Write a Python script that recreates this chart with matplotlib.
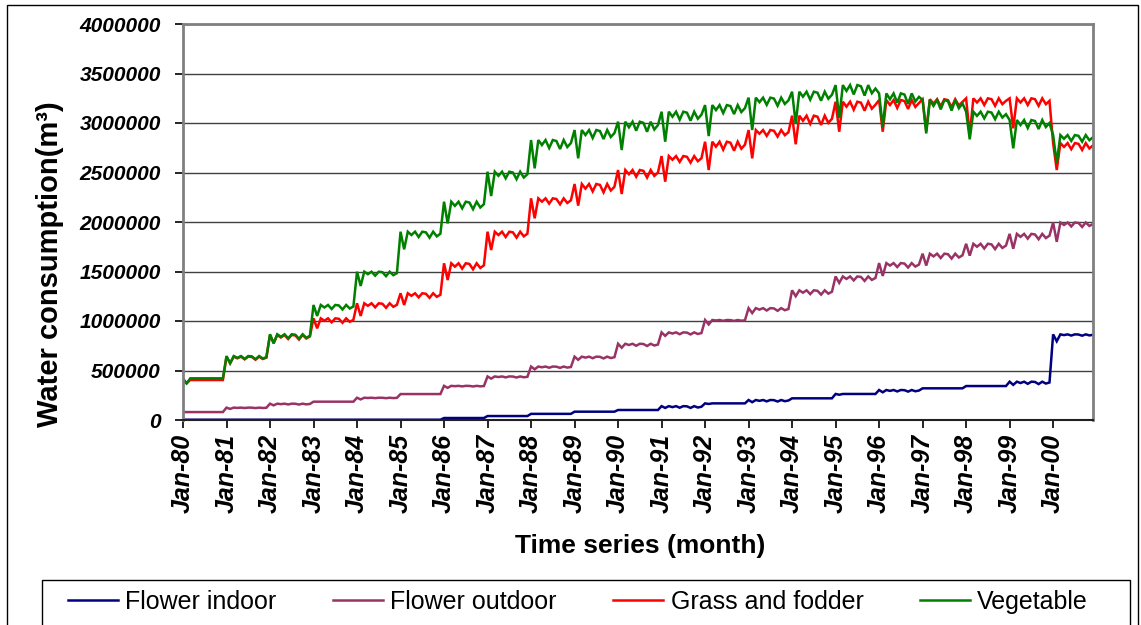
import numpy as np
import matplotlib.pyplot as plt
from matplotlib.patches import Rectangle

plt.rcParams['font.family'] = ['Liberation Sans', 'DejaVu Sans']

###############################################################################
# Data, in thousand m3 per year:
# peak = top of the monthly zig-zag, dip = February low, low = bottom of zig-zag

tick_labels = ['Jan-80', 'Jan-81', 'Jan-82', 'Jan-83', 'Jan-84', 'Jan-85',
               'Jan-86', 'Jan-87', 'Jan-88', 'Jan-89', 'Jan-90', 'Jan-91',
               'Jan-92', 'Jan-93', 'Jan-94', 'Jan-95', 'Jan-96', 'Jan-97',
               'Jan-98', 'Jan-99', 'Jan-00']

indoor_peak = [3, 3, 3, 3, 3, 3, 20, 40, 62, 84, 101, 140, 168, 202, 219,
               263, 303, 320, 343, 387, 865]
indoor_dip = [3, 3, 3, 3, 3, 3, 20, 40, 62, 84, 101, 122, 162, 180, 219,
              255, 280, 320, 343, 355, 795]
indoor_low = [3, 3, 3, 3, 3, 3, 20, 40, 62, 84, 101, 120, 168, 185, 219,
              263, 285, 320, 343, 360, 850]

outdoor_peak = [80, 125, 165, 185, 225, 262, 345, 440, 540, 640, 770, 885,
                1010, 1130, 1310, 1450, 1585, 1680, 1780, 1880, 1995]
outdoor_dip = [80, 112, 148, 185, 208, 262, 325, 418, 512, 608, 730, 850,
               965, 1080, 1250, 1385, 1455, 1560, 1660, 1730, 1800]
outdoor_low = [80, 120, 155, 185, 220, 262, 338, 428, 525, 620, 745, 862,
               1000, 1100, 1262, 1400, 1535, 1625, 1720, 1820, 1945]

grass_peak = [404, 640, 859, 1027, 1179, 1280, 1583, 1902, 2239, 2384, 2525,
              2666, 2811, 2929, 3074, 3215, 3232, 3240, 3249, 3249, 2797]
grass_dip = [370, 573, 775, 926, 1051, 1162, 1414, 1717, 2037, 2165, 2283,
             2407, 2525, 2643, 2785, 2912, 2912, 2920, 2878, 2946, 2525]
grass_low = [404, 606, 808, 977, 1128, 1229, 1515, 1835, 2172, 2290, 2440,
             2592, 2710, 2855, 2970, 3114, 3132, 3150, 3165, 3165, 2720]

veg_peak = [421, 646, 866, 1162, 1498, 1902, 2205, 2508, 2828, 2929, 3013,
            3114, 3181, 3256, 3316, 3383, 3299, 3232, 3114, 3030, 2878]
veg_dip = [370, 573, 775, 1051, 1354, 1724, 1986, 2262, 2542, 2643, 2727,
           2811, 2868, 2929, 2990, 3050, 2960, 2895, 2835, 2744, 2596]
veg_low = [421, 610, 815, 1111, 1448, 1835, 2121, 2424, 2727, 2828, 2900,
           3013, 3080, 3165, 3215, 3265, 3182, 3114, 3030, 2929, 2804]

# position of each month between low (0) and peak (1); February is the dip
month_shape = [1.0, 0.0, 1.0, 0.5, 1.0, 0.2, 1.0, 0.9, 0.1, 1.0, 0.3, 0.7]


def monthly(peak, dip, low):
    vals = []
    for p, d, lo in zip(peak, dip, low):
        for m, w in enumerate(month_shape):
            vals.append(d if m == 1 else lo + w * (p - lo))
    return np.array(vals) * 1000.


series = [('Flower indoor', monthly(indoor_peak, indoor_dip, indoor_low), '#000080'),
          ('Flower outdoor', monthly(outdoor_peak, outdoor_dip, outdoor_low), '#993366'),
          ('Grass and fodder', monthly(grass_peak, grass_dip, grass_low), '#FF0000'),
          ('Vegetable', monthly(veg_peak, veg_dip, veg_low), '#008000')]

###############################################################################
W, H = 1141, 625
fig = plt.figure(figsize=(W / 100., H / 100.), dpi=100)
ax = fig.add_axes([183 / W, 1 - 420 / H, (1093 - 183) / W, (420 - 24) / H])

x = np.arange(len(series[0][1]))
for name, y, color in series:
    ax.plot(x, y, color=color, lw=1.8, label=name, solid_joinstyle='miter')

ax.set_xlim(0, x[-1])
ax.set_ylim(0, 4000000)
ax.set_yticks(np.arange(0, 4000001, 500000))
ax.set_yticklabels(['%d' % v for v in np.arange(0, 4000001, 500000)],
                   fontsize=15, fontweight='bold', fontstyle='italic')
ax.set_xticks(np.arange(0, len(x), 12))
ax.set_xticklabels(tick_labels, rotation=90, fontsize=18,
                   fontweight='bold', fontstyle='italic')
ax.tick_params(axis='y', length=6, width=1.2, pad=10)
ax.tick_params(axis='x', length=6, width=1.2, pad=4)
ax.yaxis.grid(True, color='#404040', lw=1)
ax.set_axisbelow(True)
for side in ['top', 'right', 'left']:
    ax.spines[side].set_color('#808080')
    ax.spines[side].set_linewidth(2)
ax.spines['bottom'].set_color('#202020')
ax.spines['bottom'].set_linewidth(1.5)

fig.text(50 / W, 1 - 264 / H, 'Water consumption(m³)', rotation=90,
         ha='center', va='center', fontsize=21, fontweight='bold')
fig.text(640 / W, 1 - 546 / H, 'Time series (month)', ha='center',
         va='center', fontsize=19, fontweight='bold')

# chart area border and legend box
fig.patches.append(Rectangle((7 / W, -0.1), (1138 - 7) / W, 1.1 - 5 / H,
                             transform=fig.transFigure, fill=False,
                             ec='black', lw=1))
fig.patches.append(Rectangle((42 / W, -0.1), (1130 - 42) / W, 0.1 + 1 - 580 / H,
                             transform=fig.transFigure, fill=False,
                             ec='black', lw=1))
fig.legend(loc='center', bbox_to_anchor=(578 / W, 1 - 602 / H), ncol=4,
           frameon=False, fontsize=18, handlelength=2.0, handletextpad=0.3,
           columnspacing=2.25)

fig.savefig('out.png', dpi=100)
